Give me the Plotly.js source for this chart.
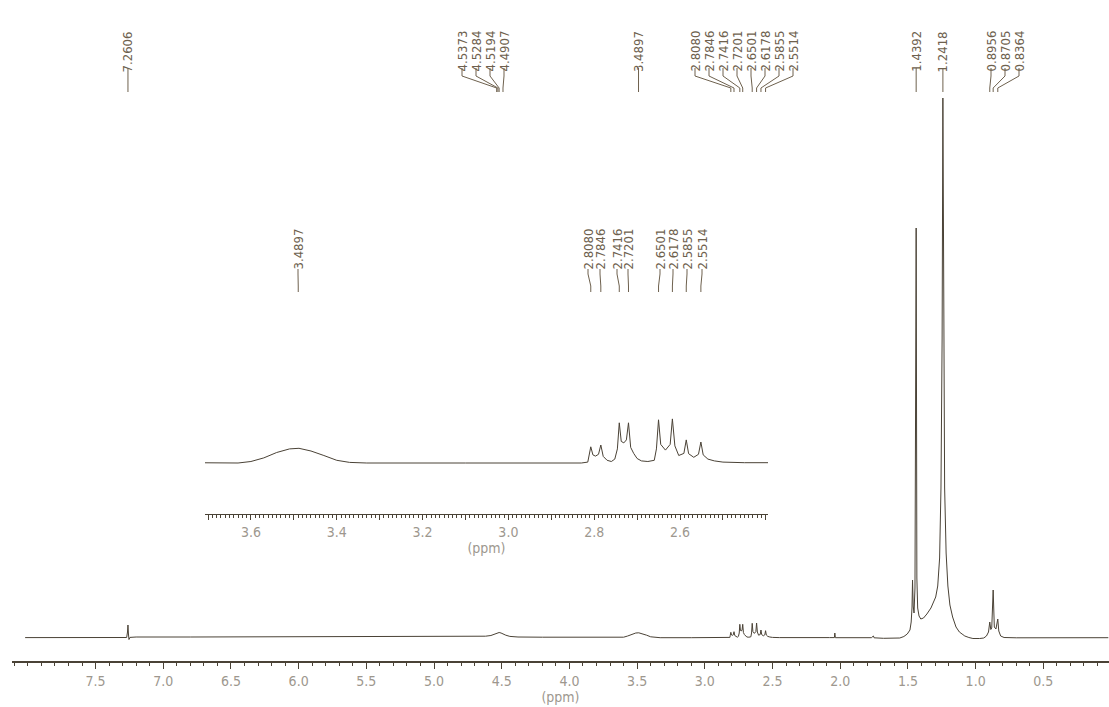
<!DOCTYPE html>
<html><head><meta charset="utf-8">
<script src="https://cdn.plot.ly/plotly-3.0.1.min.js"></script>
<style>html,body{margin:0;padding:0;background:#fff}#chart{width:1109px;height:707px}</style>
</head><body><div id="chart"></div>
<script>
// ---- spectrum (chemical shift in ppm, intensity in arbitrary units) ----
const specPpm = [8.02,7.80,7.50,7.30,7.270,7.264,7.2606,7.257,7.253,7.246,7.20,6.80,6.40,6.00,5.50,5.00,4.70,4.62,4.58,4.55,4.5373,4.5284,4.5194,4.505,4.4907,4.47,4.44,4.38,4.20,3.90,3.70,3.63,3.60,3.57,3.54,3.51,3.488,3.46,3.43,3.40,3.37,3.33,3.10,2.90,2.83,2.815,2.8125,2.808,2.803,2.797,2.790,2.7846,2.779,2.770,2.760,2.752,2.746,2.7416,2.737,2.731,2.725,2.7201,2.715,2.708,2.700,2.690,2.675,2.660,2.655,2.6501,2.645,2.634,2.623,2.6178,2.612,2.603,2.591,2.5855,2.580,2.568,2.557,2.5514,2.546,2.535,2.52,2.50,2.45,2.40,2.20,2.08,2.043,2.040,2.036,1.90,1.77,1.755,1.750,1.68,1.60,1.56,1.53,1.505,1.485,1.476,1.470,1.466,1.461,1.455,1.448,1.4392,1.434,1.428,1.418,1.405,1.385,1.36,1.33,1.31,1.295,1.28,1.266,1.256,1.2475,1.2418,1.2365,1.229,1.218,1.205,1.19,1.17,1.145,1.12,1.10,1.08,1.05,1.02,0.97,0.94,0.92,0.905,0.8956,0.888,0.881,0.8705,0.862,0.850,0.8364,0.829,0.815,0.79,0.70,0.40,0.02];
const specInt = [0.4,0.3,0.3,0.4,0.5,6,13,4,-1.5,0.6,1,1,1.2,1.5,1.5,1.5,1.5,1.8,2.5,4,5,5.5,5.5,5,4,2.8,1.6,1,0.8,0.5,0.3,0.3,0.8,2,3.8,5,5.2,4.3,2.8,1.2,0.5,0.3,0.3,0.3,0.3,0.6,2.5,5.7,3.0,2.6,3.2,6.3,2.5,1.2,0.8,1.6,5,13.7,7.5,7,8,13.7,5.5,3.5,1.8,1,0.8,1.2,5,14.7,6.5,4.6,6.5,15,6,2.8,3.5,8,3.4,2.2,3.2,7.3,3,1.6,1,0.6,0.4,0.3,0.3,0.4,0.4,5,0.3,0.3,0.3,2,0.2,-0.3,-0.5,0,1.5,4,8,16,30,58,32,25,50,410,60,30,22,19,20,24,30,36,41,52,80,150,300,540,300,150,85,52,33,21,11,6,4,2,0.5,-0.5,-0.5,0,2,6,16,8.5,10,48,11,9,19,7,2,0.5,0.2,0.3,0.3];

// ---- axis tick labels ----
const mainTickVals = [7.5,7.0,6.5,6.0,5.5,5.0,4.5,4.0,3.5,3.0,2.5,2.0,1.5,1.0,0.5];
const mainTickText = ['7.5','7.0','6.5','6.0','5.5','5.0','4.5','4.0','3.5','3.0','2.5','2.0','1.5','1.0','0.5'];
const insetTickVals = [3.7,3.6,3.5,3.4,3.3,3.2,3.1,3.0,2.9,2.8,2.7,2.6,2.5,2.4];
const insetTickText = ['','3.6','','3.4','','3.2','','3.0','','2.8','','2.6','',''];

// ---- peak picks ----
const topPeakGroups = [
  [7.2606],
  [4.5373,4.5284,4.5194,4.4907],
  [3.4897],
  [2.8080,2.7846,2.7416,2.7201,2.6501,2.6178,2.5855,2.5514],
  [1.4392],
  [1.2418],
  [0.8956,0.8705,0.8364]
];
const insetPeaks = [3.4897,2.8080,2.7846,2.7416,2.7201,2.6501,2.6178,2.5855,2.5514];

// ---- layout geometry (pixels) ----
const W=1109, H=707, L=12, R=0, T=0, B=46;
const X0=L, X1=W-R, YT=T, YB=H-B;
const mainRange=[8.117,0.015];
const insetRange=[3.707,2.395];
const inX0=205, inX1=768, inYB=514, inYT=380, inBase=463, inScale=3;
const mainYRange=[-(YB-638), 638];
function mainPx(p){return X0+(mainRange[0]-p)/(mainRange[0]-mainRange[1])*(X1-X0);}
function insetPx(p){return inX0+(insetRange[0]-p)/(insetRange[0]-insetRange[1])*(inX1-inX0);}
function pX(px){return (px-X0)/(X1-X0);}
function pY(py){return (YB-py)/(YB-YT);}

const FONT="'Liberation Sans Narrow','DejaVu Sans Condensed','Arial Narrow',sans-serif";
const TRACE='#4a4236', LAB='#6e614e', AX='#9d978e';

// label slot starting pixels / spacing per group (layout)
const topSlots=[{s:null},{s:462},{s:null},{s:695},{s:null},{s:null},{s:991}];
const insetSlots=[298,588,600,617,628,660,673,687,702];

const shapes=[], annotations=[];
function addLabel(lx, px, txt, yc, y0, yA, yB, y1){
  annotations.push({xref:'paper',yref:'paper',x:pX(lx),y:pY(yc),text:txt,showarrow:false,
    textangle:-90,xanchor:'center',yanchor:'middle',font:{family:FONT,size:13,color:LAB}});
  shapes.push({type:'path',xref:'paper',yref:'paper',
    path:`M ${pX(lx)},${pY(y0)} L ${pX(lx)},${pY(yA)} L ${pX(px)},${pY(yB)} L ${pX(px)},${pY(y1)}`,
    line:{color:LAB,width:1}});
}
topPeakGroups.forEach((g,gi)=>{
  g.forEach((p,i)=>{
    const px=mainPx(p);
    const lx = topSlots[gi].s===null ? px : topSlots[gi].s+14*i;
    addLabel(lx,px,p.toFixed(4),51.5,68,76,88,92);
  });
});
insetPeaks.forEach((p,i)=>{
  addLabel(insetSlots[i],insetPx(p),p.toFixed(4),249.5,269,274,286,292);
});

const traces=[
  {x:specPpm,y:specInt,type:'scatter',mode:'lines',line:{color:TRACE,width:1},hoverinfo:'skip',xaxis:'x',yaxis:'y'},
  {x:specPpm,y:specInt,type:'scatter',mode:'lines',line:{color:TRACE,width:1},hoverinfo:'skip',xaxis:'x2',yaxis:'y2'}
];
const base0=0.3;
const layout={
  width:W,height:H,margin:{l:L,r:R,t:T,b:B,pad:0},
  paper_bgcolor:'#fff',plot_bgcolor:'rgba(0,0,0,0)',showlegend:false,
  xaxis:{range:mainRange,showline:true,linecolor:TRACE,linewidth:2,showgrid:false,zeroline:false,
    tickmode:'array',tickvals:mainTickVals,ticktext:mainTickText,ticks:'outside',ticklen:6,tickwidth:1,tickcolor:TRACE,
    minor:{tickmode:'linear',tick0:0,dtick:0.1,ticks:'outside',ticklen:3,tickcolor:TRACE,tickwidth:1},
    tickfont:{family:FONT,size:14,color:AX},
    title:{text:'(ppm)',font:{family:FONT,size:14,color:AX},standoff:2},anchor:'y',fixedrange:true},
  yaxis:{range:mainYRange,visible:false,domain:[0,1],fixedrange:true},
  xaxis2:{range:insetRange,domain:[pX(inX0),pX(inX1)],anchor:'y2',showline:true,linecolor:TRACE,linewidth:1,
    showgrid:false,zeroline:false,tickmode:'array',tickvals:insetTickVals,ticktext:insetTickText,
    ticks:'outside',ticklen:5,tickwidth:1,tickcolor:TRACE,
    minor:{tickmode:'linear',tick0:0,dtick:0.01,ticks:'outside',ticklen:3,tickcolor:TRACE,tickwidth:1},
    tickfont:{family:FONT,size:14,color:AX},
    title:{text:'(ppm)',font:{family:FONT,size:14,color:AX},standoff:2},fixedrange:true},
  yaxis2:{range:[base0-(inYB-inBase)/inScale, base0+(inBase-inYT)/inScale],domain:[pY(inYB),pY(inYT)],
    visible:false,anchor:'x2',fixedrange:true},
  shapes:shapes,annotations:annotations
};
Plotly.newPlot('chart',traces,layout,{staticPlot:true,displayModeBar:false});
</script></body></html>
